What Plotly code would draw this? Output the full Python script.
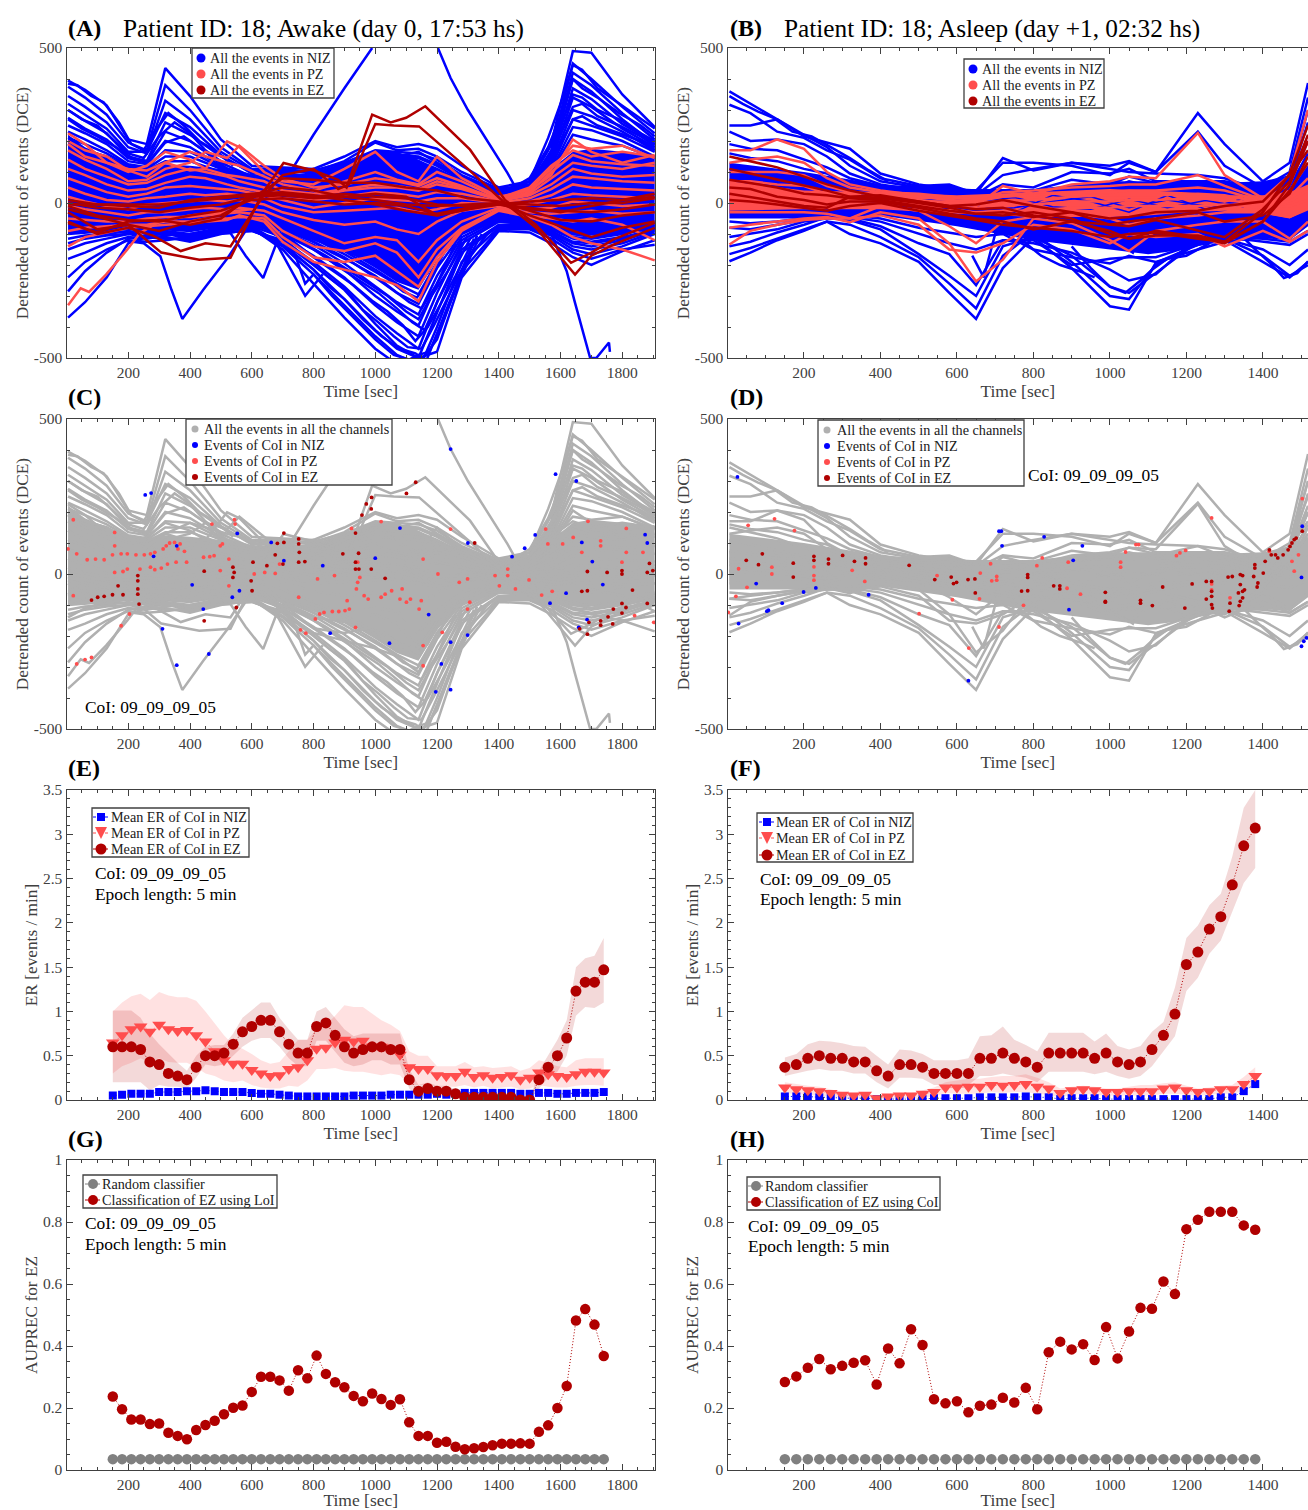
import plotly.graph_objects as go

W, H = 1308, 1510
BLUE, PINK, DRED, GREY, DGREY = "#0000FF", "#FF4D4D", "#B00000", "#B0B0B0", "#808080"
SERIF = "Liberation Serif"
AXC = "#404040"

# ---------- Panels A / C : detrended counts, awake ----------
A_T = [5,60,130,200,260,320,400,500,600,700,800,900,1000,1070,1140,1200,1280,1400,1500,1570,1640,1700,1800,1905]
A_CORE_UP = [220,180,150,115,110,125,120,110,85,90,85,120,170,165,140,105,65,25,50,110,165,175,165,155]
A_CORE_LO = [-95,-90,-85,-85,-85,-85,-90,-80,-70,-85,-120,-150,-210,-255,-280,-180,-100,-60,-70,-85,-105,-105,-95,-85]
A_NIZ = [
 [395,365,315,205,190,435,345,205,120,115,110,150,200,180,190,175,120,50,70,190,490,485,350,245],
 [375,340,285,195,170,380,300,180,110,110,100,135,195,170,175,150,100,45,60,170,450,400,310,225],
 [345,310,260,180,160,330,270,165,105,100,105,130,170,165,160,140,90,40,55,160,420,380,290,205],
 [320,285,240,165,165,290,245,155,95,105,95,125,160,150,165,130,85,35,50,150,400,360,270,190],
 [300,265,225,150,135,260,220,150,100,90,90,120,165,155,150,125,80,35,45,140,370,335,255,195],
 [275,240,205,145,130,230,200,130,85,95,85,115,150,145,145,120,75,30,40,130,340,310,240,180],
 [250,225,190,135,125,200,180,120,80,85,80,110,145,135,135,110,70,30,45,125,300,280,230,170],
 [230,205,170,125,115,170,165,115,90,80,75,100,135,130,130,105,65,25,40,115,270,250,215,165],
 [210,190,160,120,110,150,150,110,80,75,80,95,125,125,120,95,60,25,35,105,245,235,200,150],
 [190,170,150,115,105,135,135,100,70,70,70,90,120,115,110,90,55,20,35,100,220,205,185,145],
 [-370,-320,-240,-130,-110,-95,-120,-95,-90,-125,-200,-280,-390,-460,-500,-480,-240,-90,-95,-130,-175,-200,-155,-120],
 [-285,-220,-160,-115,-105,-110,-125,-100,-85,-140,-230,-330,-430,-490,-520,-440,-220,-85,-85,-115,-160,-180,-150,-135],
 [-240,-190,-150,-120,-125,-120,-110,-90,-80,-150,-260,-370,-470,-520,-540,-400,-190,-80,-80,-105,-150,-165,-140,-100],
 [-180,-160,-130,-110,-115,-105,-100,-85,-75,-135,-215,-310,-410,-470,-500,-355,-160,-75,-75,-100,-140,-150,-130,-95],
 [-150,-130,-115,-100,-110,-115,-115,-95,-90,-120,-190,-270,-365,-420,-470,-320,-150,-70,-70,-95,-130,-140,-120,-90],
 [-130,-115,-105,-100,-95,-100,-110,-90,-75,-110,-170,-240,-330,-385,-430,-290,-130,-60,-70,-90,-125,-130,-115,-85],
 [-115,-105,-100,-90,-100,-95,-105,-85,-70,-100,-150,-215,-300,-350,-395,-260,-120,-55,-65,-85,-115,-125,-110,-85],
 [-100,-95,-90,-95,-90,-90,-100,-80,-65,-90,-135,-195,-270,-320,-360,-235,-110,-50,-60,-80,-110,-115,-100,-80],
 [-95,-90,-85,-85,-85,-85,-90,-75,-60,-85,-125,-175,-240,-290,-325,-210,-100,-45,-60,-75,-100,-110,-95,-75],
 [-90,-85,-80,-80,-80,-80,-85,-70,-60,-80,-115,-155,-215,-260,-295,-190,-90,-40,-55,-70,-95,-100,-90,-70],
]
A_ARC_X = [197,250,304,340,375,443,520,600,700,800,900,990]
A_ARC_Y = [-123,-130,-172,-280,-374,-280,-180,-60,60,220,370,500]
A_ARC2_X = [1203,1244,1300,1360,1428,1460]
A_ARC2_Y = [500,403,300,204,97,40]
A_DROP_X = [1570,1620,1647,1696,1716,1757,1760]
A_DROP_Y = [-100,-220,-322,-500,-500,-450,-480]
A_DIP_X = [420,531,580,637,680,773,830]
A_DIP_Y = [-100,-97,-170,-242,-130,-299,-230]
A_FAN_X = [
 [640,700,745,773,800,860,930,1000,1060,1110,1140,1175,1215,1260,1310,1370],
 [620,680,740,800,850,900,960,1020,1080,1130,1165,1200,1240,1290,1345],
 [640,720,790,850,910,960,1010,1060,1105,1150,1190,1235,1280,1330],
 [650,730,800,870,930,990,1040,1090,1130,1170,1215,1260,1320],
 [660,740,810,880,950,1010,1070,1120,1160,1205,1250,1310],
 [700,770,840,910,980,1040,1100,1140,1185,1235,1300],
 [720,790,860,930,1000,1060,1110,1150,1200,1260],
 [750,820,900,970,1040,1090,1135,1180,1240],
 [780,860,940,1020,1080,1130,1170,1225],
 [820,900,980,1050,1110,1160,1210],
 [1430,1500,1560,1600,1640,1670,1720,1790,1860,1905],
 [1430,1500,1560,1600,1640,1670,1720,1790,1860,1905],
 [1430,1500,1560,1600,1640,1670,1720,1790,1860,1905],
 [1430,1500,1560,1600,1640,1670,1720,1790,1860,1905],
 [1430,1500,1560,1600,1640,1670,1720,1790,1860,1905],
 [5,35,80,120,170,210,250,285,330,380,430,480,540],
 [5,50,100,150,200,250,300,350,400,450,520],
 [5,50,100,160,220,270,320,380,450,520],
]
A_FAN_Y = [
 [-60,-110,-180,-260,-230,-300,-370,-440,-490,-505,-490,-480,-390,-280,-170,-90],
 [-70,-100,-165,-215,-270,-310,-375,-430,-470,-485,-510,-420,-320,-200,-100],
 [-80,-130,-190,-240,-285,-345,-385,-430,-465,-470,-395,-305,-215,-105],
 [-75,-120,-175,-225,-265,-315,-350,-395,-445,-400,-320,-235,-115],
 [-70,-115,-155,-205,-250,-290,-340,-385,-410,-310,-225,-110],
 [-90,-130,-170,-215,-260,-300,-350,-375,-295,-220,-105],
 [-85,-120,-160,-195,-235,-280,-320,-340,-260,-130],
 [-95,-125,-165,-205,-245,-285,-305,-245,-125],
 [-100,-135,-170,-210,-250,-270,-225,-115],
 [-105,-135,-175,-205,-240,-205,-110],
 [40,70,210,320,445,430,370,320,270,240],
 [40,80,180,280,400,370,340,290,250,215],
 [35,70,170,250,350,340,300,270,225,200],
 [30,60,150,220,310,320,280,250,215,185],
 [30,60,130,190,270,280,250,225,200,175],
 [385,380,345,325,260,190,170,230,290,250,200,170,120],
 [300,270,250,205,160,145,215,260,225,170,120],
 [270,240,215,180,140,135,195,215,165,110],
]

A_PZ_T = [5,60,130,200,260,320,400,450,520,560,640,700,800,900,1000,1070,1140,1200,1280,1400,1500,1570,1640,1700,1800,1905]
A_PZ = [
 [225,190,130,100,120,165,140,110,199,180,100,70,60,110,165,100,70,150,80,20,40,90,205,165,130,155],
 [200,170,150,105,85,130,165,150,130,120,85,60,40,70,100,75,60,100,70,15,50,120,170,150,165,150],
 [190,150,130,110,105,130,105,110,90,85,70,40,30,45,60,55,45,70,50,12,45,110,185,175,185,145],
 [170,140,110,70,75,110,130,165,145,185,120,80,50,60,80,70,55,80,55,10,35,100,155,135,125,120],
 [140,110,85,60,65,90,110,100,85,70,50,30,20,40,50,50,40,60,45,10,30,80,130,120,110,130],
 [110,90,60,40,45,65,85,80,60,50,35,15,10,20,35,30,20,35,30,5,25,60,110,95,85,90],
 [80,60,35,20,30,50,55,50,45,40,25,10,-15,0,15,10,5,15,15,0,15,45,85,80,70,65],
 [50,30,10,5,15,20,30,25,30,25,15,-10,-30,-25,-20,-15,-30,-20,0,-5,5,25,60,50,45,40],
 [20,5,-10,-20,-5,0,5,10,5,10,-5,-30,-55,-70,-60,-85,-100,-60,-25,-10,-5,10,30,25,20,15],
 [-10,-20,-30,-40,-30,-30,-20,-15,-20,-15,-25,-50,-90,-130,-110,-120,-190,-120,-60,-15,-20,-15,5,0,-10,-5],
 [-50,-55,-60,-60,-50,-45,-45,-40,-35,-30,-40,-90,-140,-155,-130,-160,-240,-150,-80,-20,-30,-35,-30,-25,-35,-30],
 [-90,-80,-75,-70,-70,-60,-60,-50,-50,-45,-50,-110,-175,-190,-170,-220,-270,-175,-85,-20,-40,-50,-60,-50,-70,-120],
 [-140,-110,-95,-80,-75,-70,-65,-60,-55,-40,-60,-125,-190,-215,-240,-265,-317,-190,-90,-25,-45,-70,-110,-130,-150,-185],
]
A_PZ_LOW_X = [5,46,73,128,197,238,300,400,500,600]
A_PZ_LOW_Y = [-330,-275,-287,-231,-150,-97,-60,-40,-30,-20]

A_EZ_T = [5,100,200,300,400,500,600,700,800,900,1000,1100,1200,1300,1400,1500,1600,1700,1800,1905]
A_EZ = [
 [0,-15,-20,-30,-15,-5,20,25,15,20,10,-5,-10,-5,0,-5,-10,0,0,15],
 [-10,-40,-55,-60,-40,-25,10,15,5,-5,0,-10,-35,-15,-5,-20,-25,-30,-20,-5],
 [-5,-5,-10,-15,10,20,30,35,25,10,-5,-25,-40,-20,-5,-15,-30,-10,10,20],
 [-30,-85,-70,-90,-60,-40,15,80,75,65,65,50,40,15,5,-25,-55,-60,-40,-30],
 [10,-5,-5,-5,5,15,25,30,20,30,20,15,-5,-10,-5,5,10,15,10,30],
 [-65,-95,-60,-55,-70,-50,25,50,40,20,30,20,-40,-20,0,-40,-75,-110,-80,-60],
]
A_EZ1_X = [5,100,200,307,430,531,635,703,800,880,907,990,1050,1100,1162,1307,1420,1520,1634,1700,1770,1905]
A_EZ1_Y = [-20,-45,-70,-160,-183,-177,32,129,105,75,50,285,260,275,312,172,10,-70,-193,-160,-118,-64]
A_EZ2_X = [5,100,200,280,370,450,531,635,700,800,880,915,1000,1060,1142,1300,1420,1520,1647,1700,1770,1905]
A_EZ2_Y = [-60,-100,-80,-105,-155,-130,-140,20,90,110,45,60,255,250,247,110,0,-80,-231,-170,-135,-80]

# ---------- Panels B / D : detrended counts, asleep ----------
B_T = [5,60,130,200,260,320,400,500,580,650,720,800,900,1000,1050,1120,1230,1300,1400,1470,1518]
B_CORE_X = [5,200,400,600,800,1000,1100,1200,1300,1400,1470,1518]
B_CORE_UP = [130,100,60,45,45,70,70,65,65,70,90,120]
B_CORE_LO = [-50,-50,-40,-75,-120,-150,-165,-150,-115,-110,-115,-70]
B_PZ_CORE_UP = [70,40,35,25,35,45,40,35,25,25,35,60]
B_PZ_CORE_LO = [-25,-20,-20,-35,-45,-45,-40,-30,-25,-35,-50,-20]
B_NIZ = [
 [360,320,270,215,195,175,95,60,45,40,130,130,120,90,130,100,290,190,70,130,387],
 [317,290,230,210,170,140,80,55,60,30,145,105,130,120,135,100,230,120,50,100,340],
 [250,250,270,220,180,120,70,50,55,25,90,110,130,110,100,95,90,80,40,80,300],
 [230,200,205,190,150,95,60,40,50,20,60,50,100,95,110,70,70,70,45,70,260],
 [190,175,170,140,115,80,55,35,40,15,40,40,75,60,85,65,65,65,40,60,200],
 [160,145,135,110,95,60,45,30,30,10,25,35,50,45,70,50,55,55,35,55,160],
 [-188,-160,-120,-90,-60,-100,-130,-190,-290,-374,-210,-110,-210,-333,-344,-193,-135,-120,-190,-240,-190],
 [-165,-145,-115,-85,-60,-70,-110,-175,-260,-340,-170,-95,-190,-300,-310,-200,-130,-115,-170,-235,-200],
 [-140,-125,-95,-70,-45,-55,-85,-165,-235,-300,-140,-110,-170,-270,-290,-225,-125,-115,-150,-200,-150],
 [-110,-100,-85,-60,-50,-50,-75,-130,-165,-265,-120,-130,-160,-215,-250,-230,-110,-110,-125,-135,-100],
 [-80,-85,-70,-55,-45,-45,-60,-100,-130,-150,-120,-120,-200,-180,-175,-175,-130,-110,-115,-125,-90],
 [-60,-65,-60,-50,-40,-40,-50,-80,-95,-110,-100,-150,-175,-195,-170,-190,-150,-125,-110,-115,-70],
]
B_EXTRA_X = [
 [5,40,80,120,170,220,270,320,370,420],
 [900,950,1000,1040,1080,1110,1150,1200,1260],
 [640,670,700,740,780,820,870,920,960],
 [1340,1380,1420,1455,1490,1518],
 [1020,1060,1080,1130,1200,1270],
]
B_EXTRA_Y = [
 [345,320,295,275,230,215,180,145,105,70],
 [-140,-210,-270,-290,-250,-215,-180,-170,-130],
 [-170,-240,-100,-80,-130,-170,-200,-220,-240],
 [-100,-150,-195,-242,-226,-188],
 [-130,-160,-100,-95,-140,-120],
]
B_MOTTLE_X = [350,450,550,650,750,850,950,1050,1150,1250,1350]
B_MOTTLE = [
 [25,15,-5,-25,-15,5,20,-15,10,-10,5],
 [-5,5,12,5,18,-12,-20,12,-15,8,-12],
 [10,-10,-20,-10,-30,25,5,-30,25,-20,15],
]
B_PZ = [
 [170,170,205,175,100,60,40,25,10,-10,55,30,60,70,85,80,226,90,15,90,300],
 [130,140,150,130,80,50,35,30,20,10,35,40,50,55,60,60,90,55,10,60,200],
 [100,100,100,90,55,35,30,20,10,5,20,25,35,35,40,40,50,40,5,40,130],
 [70,70,60,55,30,25,20,10,0,0,5,10,20,25,25,25,30,25,0,20,80],
 [40,35,30,25,5,10,10,0,-10,-15,-5,-5,5,5,10,10,15,10,-5,5,40],
 [10,5,0,-5,-15,-10,0,-10,-25,-30,-25,-25,-15,-15,-10,-10,-10,-5,-15,-10,10],
 [-30,-30,-30,-30,-35,-50,-10,-25,-75,-130,-60,-45,-35,-50,-70,-50,-40,-30,-30,-45,-20],
 [-80,-70,-60,-50,-45,-62,-30,-50,-130,-253,-183,-50,-65,-120,-155,-90,-70,-60,-60,-115,-60],
 [-134,-90,-70,-55,-50,-50,-40,-70,-150,-160,-130,-70,-85,-130,-100,-110,-100,-140,-90,-125,-90],
]
B_EZ = [
 [150,135,115,85,60,40,20,5,-10,-20,-15,-40,-60,-90,-115,-105,-105,-125,-30,95,250],
 [110,95,75,55,40,20,15,0,-15,-35,-40,-30,-50,-100,-115,-90,-110,-130,-60,60,200],
 [75,65,50,30,25,15,10,-10,-25,-35,-30,-45,-30,-70,-60,-50,-30,-60,-40,30,150],
 [50,45,20,10,-5,5,5,-15,-35,-50,-60,-85,-60,-70,-75,-55,-90,-110,-20,70,220],
 [30,20,5,-10,-15,20,25,5,-10,-5,10,-10,-30,-50,-45,-30,-25,-10,5,90,170],
 [10,5,-5,-15,-25,-10,0,-25,-40,-55,-70,-80,-90,-110,-100,-95,-115,-125,-60,40,130],
]

# ---------- Panel C : events of the CoI ----------
C_NIZ_X = [255,274,311,357,461,553,560,537,282,357,407,443,1244,1584,1651,1443,1518,1484,1080,1000,1300,1173,1214,1244,1196,1244,1299,1046,1566,1618,1669,1703,1737,1874,1881,1659,1686,854,830,704,663]
C_NIZ_Y = [255,261,-177,-294,-258,131,-54,-75,57,91,-35,-113,403,322,300,56,126,83,148,51,100,-131,-290,-220,-380,-373,-197,-223,-94,-62,102,40,-34,127,100,-172,-147,-191,27,43,102]
C_EZ_X = [81,101,122,149,183,231,231,231,231,235,167,446,446,539,543,539,550,598,604,601,649,676,683,704,704,701,752,752,754,752,772,895,936,946,936,936,947,957,971,988,987,1101,1131,987,1032,1322,1687,1751,1799,1799,1881,1888,1899,1687,1669,1833,1771,1799,1799,1812,1881,1662,1687,1692,1730,1730,1769,1754]
C_EZ_Y = [-84,-75,-72,-67,-67,-5,-22,-48,-65,-97,-38,9,-151,22,5,-11,-108,-22,38,-54,27,62,99,132,102,32,113,97,70,38,40,65,132,67,38,16,16,190,226,247,210,260,296,16,-14,100,8,5,11,0,5,34,11,-54,-56,-52,-113,-95,-126,-108,-95,-177,-194,-156,-151,-165,-161,-138]
C_PZ_X = [5,33,67,94,122,149,177,197,225,252,272,286,313,323,334,350,368,361,382,156,183,197,238,272,286,307,327,355,389,444,464,478,498,505,471,546,544,156,156,22,177,204,33,60,81,22,526,498,526,608,642,676,690,813,868,950,943,939,943,964,909,977,1019,1032,1053,1087,1080,1101,1114,1149,1142,1155,1155,1217,1203,1155,1272,1299,1306,1299,806,820,834,861,882,902,916,752,758,775,936,1244,1019,923,1388,1402,1429,1429,1454,1498,1539,1573,1689,1641,1669,1730,1730,1813,1813,1867,1902,1840,1552,1559,1607,1799]
C_PZ_Y = [81,65,46,48,46,62,65,65,62,62,65,70,81,91,100,102,97,81,73,5,8,16,16,22,14,19,32,38,38,54,56,59,91,97,161,161,175,134,91,175,-167,-129,-290,-276,-269,-70,48,11,-38,0,5,2,32,-16,-5,-11,-27,-48,38,-70,-86,-81,-75,-65,-54,-48,-81,-91,-81,-86,-113,-231,-296,-188,0,48,-27,-16,-91,-113,-145,-129,-124,-121,-121,-118,-113,-75,-180,-191,-172,145,169,147,-5,-38,16,-5,-48,-19,-68,-56,170,118,70,107,91,147,70,70,-156,-134,145,97,97,38]

# ---------- Panel D : events of the CoI ----------
D_NIZ_X = [26,29,75,103,107,143,199,231,369,710,716,718,828,928,904,893,630,1501,1507,1514,1501,1503]
D_NIZ_Y = [313,-160,-31,-120,-117,-94,-58,-45,-67,138,138,91,120,91,44,-115,-344,-233,-217,-206,-11,154]
D_EZ_X = [49,91,81,172,172,226,226,264,264,301,332,361,361,475,542,585,591,599,629,647,648,769,785,785,785,853,869,869,988,988,988,1080,1080,1111,1138,1196,1215,1252,1266,1266,1266,1252,1266,1268,1309,1320,1341,1347,1341,1336,1347,1352,1347,1341,1338,1314,1312,1379,1379,1376,1387,1385,1401,1406,1417,1422,1433,1439,1453,1466,1471,1476,1482,1487,1503]
D_EZ_Y = [44,65,30,35,-10,57,44,48,33,60,41,52,33,28,-18,-10,-31,-27,-18,-16,-61,-55,-2,-11,-54,-38,-38,-48,-59,-88,-91,-85,-94,-102,-42,-110,-32,-24,-24,-56,-72,-81,-99,-110,-10,-8,-2,-5,-34,-61,-56,-51,-77,-88,-102,-94,-120,30,19,-8,-29,-42,3,41,78,62,62,52,62,78,89,100,111,116,138]
D_PZ_X = [123,54,175,29,116,116,51,22,2,226,226,226,326,359,501,548,588,631,661,659,688,691,704,704,710,774,809,823,888,891,923,1028,1028,1041,1068,1075,1174,1183,1198,1266,1266,1266,1314,1417,1476,1482,1493,1503]
D_PZ_Y = [178,157,140,17,22,0,-43,-72,-124,23,-5,-20,12,-24,-128,-5,-83,-239,3,-80,33,-22,-8,-20,-171,-101,27,52,-46,38,-65,38,22,71,95,95,59,68,76,181,-32,-51,-77,73,41,9,62,243]

# ---------- Panel E : event rate, awake ----------
E_TIME = list(range(150, 1741, 30))
E_EZ = [.60,.60,.60,.57,.43,.40,.30,.27,.23,.37,.50,.50,.53,.63,.77,.83,.90,.90,.77,.63,.53,.53,.83,.87,.73,.60,.53,.57,.60,.60,.57,.57,.23,.10,.13,.10,.10,.07,.03,.03,.03,.03,.03,.03,0,0,.23,.37,.50,.70,1.23,1.33,1.33,1.47]
E_EZ_UP = [1.01,1.01,1.01,.93,.75,.63,.52,.42,.33,.5,.6,.62,.62,.75,.93,1.02,1.1,1.1,.93,.8,.68,.68,1.0,1.05,.93,.8,.72,.75,.75,.75,.75,.75,.35,.17,.2,.16,.16,.12,.07,.07,.07,.07,.07,.07,0,0,.33,.5,.68,.9,1.5,1.6,1.63,1.83]
E_EZ_LO = [.2,.2,.2,.2,.11,.17,.15,.15,.12,.25,.4,.38,.4,.5,.6,.67,.7,.7,.6,.47,.38,.38,.67,.67,.55,.42,.38,.4,.45,.45,.4,.4,.13,.03,.06,.04,.04,.02,0,0,0,0,0,0,0,0,.13,.25,.32,.5,.95,1.05,1.04,1.1]
E_PZ = [.65,.73,.80,.83,.77,.85,.80,.78,.79,.73,.66,.55,.45,.41,.41,.34,.30,.27,.28,.35,.37,.45,.58,.59,.65,.68,.66,.67,.6,.6,.57,.51,.37,.35,.35,.28,.27,.27,.32,.26,.28,.25,.26,.28,.23,.25,.31,.29,.27,.26,.29,.32,.32,.31]
E_PZ_UP = [1.0,1.1,1.17,1.2,1.13,1.22,1.18,1.16,1.16,1.12,1.0,.87,.73,.62,.58,.52,.45,.41,.43,.55,.68,.68,.8,.85,.95,1.07,1.05,1.05,.97,.9,.85,.78,.55,.5,.5,.38,.38,.38,.43,.37,.38,.36,.37,.38,.33,.36,.45,.42,.38,.37,.45,.47,.47,.47]
E_PZ_LO = [.3,.38,.42,.47,.42,.47,.43,.42,.42,.37,.3,.27,.22,.2,.22,.17,.14,.13,.13,.16,.15,.22,.35,.35,.36,.33,.32,.32,.3,.28,.3,.28,.17,.17,.17,.15,.15,.15,.17,.14,.16,.13,.14,.15,.12,.13,.17,.15,.14,.14,.16,.17,.17,.16]
E_NIZ = [.05,.06,.07,.07,.07,.09,.09,.09,.10,.10,.11,.10,.09,.09,.09,.08,.07,.07,.06,.05,.04,.04,.04,.04,.04,.04,.05,.05,.05,.05,.06,.06,.06,.06,.06,.07,.06,.07,.08,.08,.08,.08,.08,.08,.07,.07,.08,.08,.07,.07,.08,.08,.08,.09]

# ---------- Panel F : event rate, asleep ----------
F_TIME = list(range(150, 1381, 30))
F_EZ = [.37,.40,.47,.50,.47,.47,.43,.43,.33,.27,.40,.40,.37,.30,.30,.30,.30,.47,.47,.53,.47,.43,.37,.53,.53,.53,.53,.47,.53,.43,.40,.43,.57,.73,.97,1.53,1.67,1.93,2.07,2.43,2.87,3.07]
F_EZ_UP = [.48,.52,.63,.67,.66,.64,.61,.6,.5,.4,.57,.56,.52,.45,.45,.45,.47,.72,.73,.83,.68,.62,.55,.76,.76,.76,.76,.66,.75,.61,.57,.61,.77,.88,1.27,1.83,1.97,2.2,2.33,2.75,3.3,3.5]
F_EZ_LO = [.27,.3,.33,.35,.33,.33,.3,.3,.2,.13,.25,.25,.24,.17,.17,.17,.17,.27,.27,.3,.27,.25,.2,.32,.32,.32,.32,.29,.32,.27,.24,.27,.38,.55,.72,1.23,1.38,1.65,1.8,2.13,2.45,2.62]
F_PZ = [.14,.12,.11,.10,.08,.06,.05,.06,.02,.04,.05,.05,.07,.09,.14,.14,.15,.15,.17,.16,.17,.18,.15,.13,.08,.11,.12,.11,.09,.09,.10,.10,.10,.13,.14,.11,.09,.10,.12,.12,.18,.27]
F_PZ_UP = [.2,.18,.16,.15,.12,.09,.08,.09,.04,.06,.08,.08,.11,.14,.2,.22,.24,.24,.26,.27,.27,.29,.25,.2,.13,.15,.16,.15,.13,.13,.15,.17,.17,.19,.2,.16,.13,.14,.16,.17,.26,.37]
F_PZ_LO = [.08,.07,.06,.05,.04,.03,.02,.03,0,.01,.02,.02,.03,.04,.08,.07,.07,.07,.09,.08,.09,.09,.07,.06,.03,.06,.07,.06,.05,.05,.05,.05,.05,.07,.07,.06,.05,.06,.07,.07,.1,.17]
F_NIZ = [.04,.04,.04,.03,.03,.02,.02,.02,.01,.01,.01,.01,.01,.02,.02,.02,.02,.03,.03,.03,.03,.04,.03,.03,.01,.02,.02,.02,.01,.01,.01,.01,.01,.01,.01,.01,.01,.01,.03,.03,.10,.18]

# ---------- Panels G / H : AUPREC ----------
G_EZ = [.237,.196,.163,.163,.148,.15,.12,.11,.099,.129,.145,.159,.18,.201,.208,.252,.301,.301,.289,.256,.322,.296,.369,.31,.283,.267,.239,.222,.247,.229,.21,.228,.154,.11,.11,.088,.091,.075,.067,.07,.074,.08,.085,.085,.086,.085,.123,.144,.2,.271,.482,.519,.469,.368]
H_EZ = [.284,.302,.33,.358,.325,.336,.346,.354,.276,.392,.344,.454,.403,.228,.215,.222,.186,.207,.211,.233,.218,.265,.196,.38,.414,.389,.406,.355,.461,.36,.447,.523,.52,.608,.568,.777,.807,.833,.833,.833,.789,.775]
RANDOM_LEVEL = 0.035

X_TICKS_L = [200,400,600,800,1000,1200,1400,1600,1800]
X_TICKS_R = [200,400,600,800,1000,1200,1400]
Y_TICKS_DCE = [-500,0,500]
Y_TEXT_DCE = ["-500","0","500"]
Y_TICKS_ER = [0,.5,1,1.5,2,2.5,3,3.5]
Y_TEXT_ER = ["0","0.5","1","1.5","2","2.5","3","3.5"]
Y_TICKS_AU = [0,.2,.4,.6,.8,1]
Y_TEXT_AU = ["0","0.2","0.4","0.6","0.8","1"]

COL_PX = [(66.5, 655.0, 1906), (727.5, 1308.0, 1518)]
ROW_PX = [(48, 358), (419, 729), (790, 1100), (1160, 1470)]

fig = go.Figure()
shapes, annos = [], []


def axname(row, col):
    n = row * 2 + col + 1
    return ("x" if n == 1 else f"x{n}"), ("y" if n == 1 else f"y{n}")


def line(ax, x, y, color, width=2.5):
    fig.add_trace(go.Scatter(x=x, y=y, mode="lines", xaxis=ax[0], yaxis=ax[1], showlegend=False, hoverinfo="skip",
                             line=dict(color=color, width=width)))


def band(ax, x, up, lo, color):
    fig.add_trace(go.Scatter(x=list(x) + list(x)[::-1], y=list(up) + list(lo)[::-1], mode="lines", fill="toself", fillcolor=color,
                             xaxis=ax[0], yaxis=ax[1], showlegend=False, hoverinfo="skip", line=dict(width=0, color=color)))


def dots(ax, x, y, color, size=3.8):
    fig.add_trace(go.Scatter(x=x, y=y, mode="markers", xaxis=ax[0], yaxis=ax[1], showlegend=False, hoverinfo="skip",
                             marker=dict(color=color, size=size, line=dict(width=0))))


def series(ax, x, y, color, symbol, size):
    fig.add_trace(go.Scatter(x=x[:len(y)], y=y, mode="lines+markers", xaxis=ax[0], yaxis=ax[1], showlegend=False, hoverinfo="skip",
                             line=dict(color=color, width=1, dash="1px,2px"),
                             marker=dict(color=color, size=size, symbol=symbol, line=dict(width=0))))


def draw_A(ax, cn, cp, ce):
    band(ax, A_T, A_CORE_UP, A_CORE_LO, cn)
    for v in A_NIZ:
        line(ax, A_T, v, cn)
    for fx, fy in zip(A_FAN_X, A_FAN_Y):
        line(ax, fx, fy, cn)
    for qx, qy in [(A_ARC_X, A_ARC_Y), (A_ARC2_X, A_ARC2_Y), (A_DROP_X, A_DROP_Y), (A_DIP_X, A_DIP_Y)]:
        line(ax, qx, qy, cn)
    for v in A_PZ:
        line(ax, A_PZ_T, v, cp)
    line(ax, A_PZ_LOW_X, A_PZ_LOW_Y, cp)
    line(ax, A_EZ1_X, A_EZ1_Y, ce)
    line(ax, A_EZ2_X, A_EZ2_Y, ce)
    for v in A_EZ:
        line(ax, A_EZ_T, v, ce)


def draw_B(ax, cn, cp, ce):
    band(ax, B_CORE_X, B_CORE_UP, B_CORE_LO, cn)
    for v in B_NIZ:
        line(ax, B_T, v, cn)
    for fx, fy in zip(B_EXTRA_X, B_EXTRA_Y):
        line(ax, fx, fy, cn)
    band(ax, B_CORE_X, B_PZ_CORE_UP, B_PZ_CORE_LO, cp)
    for v in B_MOTTLE:
        line(ax, B_MOTTLE_X, v, cn, 1.5)
    for v in B_PZ:
        line(ax, B_T, v, cp)
    for v in B_EZ:
        line(ax, B_T, v, ce)


draw_A(axname(0, 0), BLUE, PINK, DRED)
draw_B(axname(0, 1), BLUE, PINK, DRED)
draw_A(axname(1, 0), GREY, GREY, GREY)
dots(axname(1, 0), C_PZ_X, C_PZ_Y, PINK)
dots(axname(1, 0), C_NIZ_X, C_NIZ_Y, BLUE)
dots(axname(1, 0), C_EZ_X, C_EZ_Y, DRED)
draw_B(axname(1, 1), GREY, GREY, GREY)
dots(axname(1, 1), D_PZ_X, D_PZ_Y, PINK)
dots(axname(1, 1), D_NIZ_X, D_NIZ_Y, BLUE)
dots(axname(1, 1), D_EZ_X, D_EZ_Y, DRED)

for c, (T, ez, eu, el, pz, pu, pl, nz) in enumerate([
        (E_TIME, E_EZ, E_EZ_UP, E_EZ_LO, E_PZ, E_PZ_UP, E_PZ_LO, E_NIZ),
        (F_TIME, F_EZ, F_EZ_UP, F_EZ_LO, F_PZ, F_PZ_UP, F_PZ_LO, F_NIZ)]):
    ax = axname(2, c)
    band(ax, T, pu, pl, "rgba(255,77,77,0.17)")
    band(ax, T, eu, el, "rgba(176,0,0,0.15)")
    series(ax, T, nz, BLUE, "square", 8)
    series(ax, T, pz, PINK, "triangle-down", 12)
    series(ax, T, ez, DRED, "circle", 11)

for c, (T, ez) in enumerate([(E_TIME, G_EZ), (F_TIME, H_EZ)]):
    ax = axname(3, c)
    series(ax, T, [RANDOM_LEVEL] * len(ez), DGREY, "circle", 10.5)
    series(ax, T, ez, DRED, "circle", 10.5)

layout = {}
Y_SPECS = [((-500, 500), Y_TICKS_DCE, Y_TEXT_DCE, 100, "Detrended count of events (DCE)", 0),
           ((-500, 500), Y_TICKS_DCE, Y_TEXT_DCE, 100, "Detrended count of events (DCE)", 0),
           ((0, 3.5), Y_TICKS_ER, Y_TEXT_ER, 0.1, "ER [events / min]", 0),
           ((0, 1), Y_TICKS_AU, Y_TEXT_AU, 0.05, "AUPREC for EZ", 0)]
tickfont = dict(family=SERIF, size=15.5, color=AXC)
for r in range(4):
    for c in range(2):
        n = r * 2 + c + 1
        s = "" if n == 1 else str(n)
        x0, x1, xmax = COL_PX[c]
        y0, y1 = ROW_PX[r]
        yr, yt, ytt, ymin, ytitle, st = Y_SPECS[r]
        xt = X_TICKS_L if c == 0 else X_TICKS_R
        layout["xaxis" + s] = dict(
            domain=[x0 / W, x1 / W], range=[0, xmax], anchor="y" + s, tickmode="array", tickvals=xt, ticktext=[str(v) for v in xt],
            ticks="inside", ticklen=6, tickcolor=AXC, tickwidth=1, showline=True, linecolor=AXC, linewidth=1.3, mirror="ticks",
            minor=dict(ticks="inside", ticklen=3, tick0=0, dtick=50, tickcolor=AXC, tickwidth=1), showgrid=False, zeroline=False,
            tickfont=tickfont, automargin=False,
            title=dict(text="Time [sec]", standoff=2, font=dict(family=SERIF, size=17.5, color=AXC)))
        layout["yaxis" + s] = dict(
            domain=[1 - y1 / H, 1 - y0 / H], range=list(yr), anchor="x" + s, tickmode="array", tickvals=yt, ticktext=ytt,
            ticks="inside", ticklen=6, tickcolor=AXC, tickwidth=1, showline=True, linecolor=AXC, linewidth=1.3,
            mirror=("ticks" if c == 0 else False),
            minor=dict(ticks="inside", ticklen=3, tick0=yr[0], dtick=ymin, tickcolor=AXC, tickwidth=1), showgrid=False, zeroline=False,
            tickfont=tickfont, automargin=False,
            title=dict(text=ytitle, standoff=st, font=dict(family=SERIF, size=17.3, color=AXC)))


def px(x):
    return x / W


def py(y):
    return 1 - y / H


def text(x, y, s, size=17.4, bold=False, color="#000000"):
    annos.append(dict(x=px(x), y=py(y), xref="paper", yref="paper", text=("<b>%s</b>" % s if bold else s), showarrow=False,
                      xanchor="left", yanchor="middle", xshift=-2, yshift=0, align="left", font=dict(family=SERIF, size=size, color=color)))


def sym(kind, x, y, s, color):
    if kind == "circle":
        shapes.append(dict(type="circle", xref="paper", yref="paper", x0=px(x - s / 2), x1=px(x + s / 2), y0=py(y + s / 2), y1=py(y - s / 2),
                           fillcolor=color, line=dict(width=0), layer="above"))
    elif kind == "square":
        shapes.append(dict(type="rect", xref="paper", yref="paper", x0=px(x - s / 2), x1=px(x + s / 2), y0=py(y + s / 2), y1=py(y - s / 2),
                           fillcolor=color, line=dict(width=0), layer="above"))
    else:
        shapes.append(dict(type="path", xref="paper", yref="paper", fillcolor=color, line=dict(width=0), layer="above",
                           path=f"M {px(x - s / 2)} {py(y - s / 2)} L {px(x + s / 2)} {py(y - s / 2)} L {px(x)} {py(y + s / 2)} Z"))


def legend(box, mx, tx, rows, line_half=0):
    x0, y0, x1, y1 = box
    shapes.append(dict(type="rect", xref="paper", yref="paper", x0=px(x0), x1=px(x1), y0=py(y1), y1=py(y0), fillcolor="white",
                       line=dict(color=AXC, width=1.3), layer="above"))
    for y, label, kind, size, color in rows:
        if line_half:
            shapes.append(dict(type="line", xref="paper", yref="paper", x0=px(mx - line_half), x1=px(mx + line_half), y0=py(y), y1=py(y),
                               line=dict(color=color, width=1, dash="dot"), layer="above"))
        sym(kind, mx, y, size, color)
        text(tx, y, label, size=14.2, color="#202020")


LEG_ALL = ["All the events in NIZ", "All the events in PZ", "All the events in EZ"]
LEG_COI = ["All the events in all the channels", "Events of CoI in NIZ", "Events of CoI in PZ", "Events of CoI in EZ"]
LEG_ER = ["Mean ER of CoI in NIZ", "Mean ER of CoI in PZ", "Mean ER of CoI in EZ"]
COI = "CoI: 09_09_09_05"
EPOCH = "Epoch length: 5 min"

legend((192, 48, 334, 98), 201, 210, [(58, LEG_ALL[0], "circle", 9, BLUE), (74, LEG_ALL[1], "circle", 9, PINK), (90, LEG_ALL[2], "circle", 9, DRED)])
legend((964, 59, 1104, 108), 973, 982, [(69, LEG_ALL[0], "circle", 9, BLUE), (85, LEG_ALL[1], "circle", 9, PINK), (101, LEG_ALL[2], "circle", 9, DRED)])
legend((186, 419, 392, 485), 195, 204, [(429, LEG_COI[0], "circle", 7, GREY), (445, LEG_COI[1], "circle", 6, BLUE), (461, LEG_COI[2], "circle", 6, PINK), (477, LEG_COI[3], "circle", 6, DRED)])
legend((818, 420, 1024, 486), 827, 837, [(430, LEG_COI[0], "circle", 7, GREY), (446, LEG_COI[1], "circle", 6, BLUE), (462, LEG_COI[2], "circle", 6, PINK), (478, LEG_COI[3], "circle", 6, DRED)])
legend((92, 808, 249, 857), 101, 111, [(817, LEG_ER[0], "square", 8, BLUE), (833, LEG_ER[1], "triangle", 12, PINK), (849, LEG_ER[2], "circle", 11, DRED)], 8)
legend((757, 813, 913, 862), 767, 776, [(822, LEG_ER[0], "square", 8, BLUE), (838, LEG_ER[1], "triangle", 12, PINK), (855, LEG_ER[2], "circle", 11, DRED)], 8)
legend((83, 1175, 277, 1208), 93, 102, [(1184, "Random classifier", "circle", 10, DGREY), (1200, "Classification of EZ using LoI", "circle", 10, DRED)], 8)
legend((747, 1177, 940, 1210), 756, 765, [(1186, "Random classifier", "circle", 10, DGREY), (1202, "Classification of EZ using CoI", "circle", 10, DRED)], 8)

text(85, 707, COI)
text(1028, 475, COI)
text(95, 873, COI); text(95, 894, EPOCH)
text(760, 879, COI); text(760, 899, EPOCH)
text(85, 1223, COI); text(85, 1244, EPOCH)
text(748, 1226, COI); text(748, 1246, EPOCH)

for lab, x, y in [("(A)", 68, 28), ("(B)", 730, 28), ("(C)", 68, 397), ("(D)", 730, 397), ("(E)", 68, 768), ("(F)", 730, 768), ("(G)", 68, 1139), ("(H)", 730, 1139)]:
    text(x, y, lab, size=24, bold=True)
text(123, 28, "Patient ID: 18; Awake (day 0, 17:53 hs)", size=25.3)
text(784, 28, "Patient ID: 18; Asleep (day +1, 02:32 hs)", size=25.3)

fig.update_layout(width=W, height=H, margin=dict(l=0, r=0, t=0, b=0), paper_bgcolor="white", plot_bgcolor="white",
                  showlegend=False, shapes=shapes, annotations=annos, **layout)
fig.write_html("out.html", config=dict(displayModeBar=False),
               post_script="document.body.style.margin='0';document.documentElement.style.overflow='hidden';")
